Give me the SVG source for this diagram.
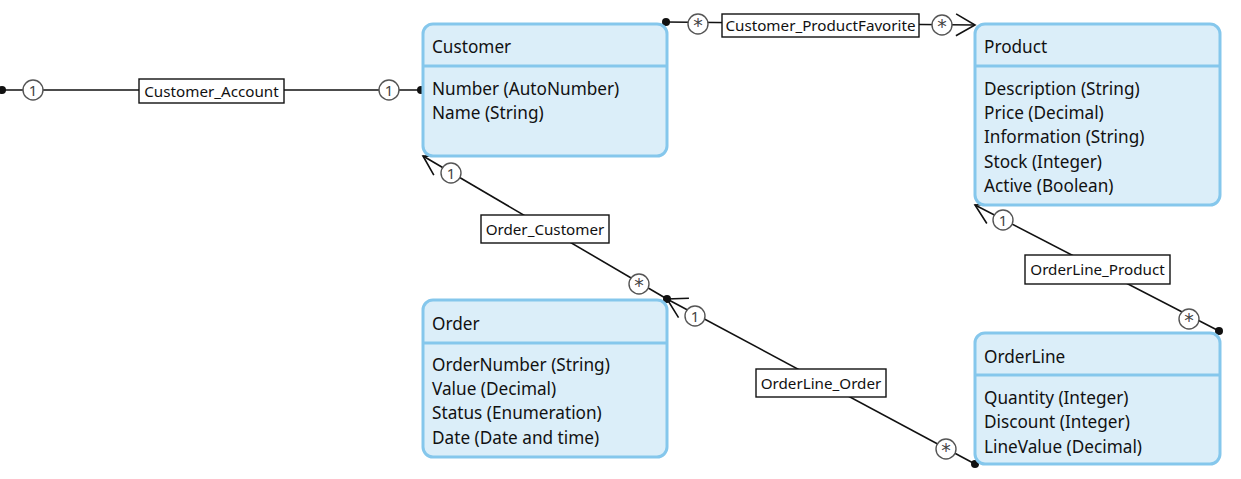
<svg xmlns="http://www.w3.org/2000/svg" width="1241" height="479" viewBox="0 0 1241 479">
<style>
.box{fill:#dbeef9;stroke:#85c7ec;stroke-width:3}
.div{stroke:#85c7ec;stroke-width:3}
.t{font-family:"Noto Sans","Open Sans",sans-serif;font-size:17.2px;fill:#111}
.ln{stroke:#111;stroke-width:1.6;fill:none}
.lbl{fill:#fff;stroke:#111;stroke-width:1.4}
.lt{font-family:"Noto Sans","Open Sans",sans-serif;font-size:15.2px;fill:#111;text-anchor:middle}
.mc{fill:#fff;stroke:#555;stroke-width:1.4}
.mt{font-family:"Noto Sans","Open Sans",sans-serif;font-size:15px;fill:#444;text-anchor:middle}
.ms{font-family:"DejaVu Sans",sans-serif;font-size:19px;fill:#444;text-anchor:middle}
</style>
<defs>
<marker id="dot" viewBox="-5 -5 10 10" markerWidth="10" markerHeight="10" markerUnits="userSpaceOnUse" refX="0" refY="0">
<circle r="4" fill="#111"/>
</marker>
<marker id="arr" viewBox="-25 -15 30 30" markerWidth="30" markerHeight="30" markerUnits="userSpaceOnUse" refX="0" refY="0" orient="auto-start-reverse">
<path d="M-19,-11 L0,0 L-19,11" fill="none" stroke="#111" stroke-width="1.6"/>
</marker>
</defs>
<g id="connectors">
<g id="c-customer-account">
<line class="ln" x1="2" y1="90" x2="421" y2="90" marker-start="url(#dot)" marker-end="url(#dot)"/>
<circle class="mc" cx="33" cy="90" r="10"/><text class="mt" x="33" y="95.5">1</text>
<circle class="mc" cx="389" cy="90" r="10"/><text class="mt" x="389" y="95.5">1</text>
<rect class="lbl" x="139" y="79" width="145" height="24"/><text class="lt" x="211.5" y="96.5">Customer_Account</text>
</g>
<g id="c-customer-productfavorite">
<line class="ln" x1="666" y1="22" x2="975" y2="25" marker-start="url(#dot)" marker-end="url(#arr)"/>
<circle class="mc" cx="698" cy="24" r="10"/><text class="ms" x="698" y="31.5">*</text>
<circle class="mc" cx="942" cy="25" r="10"/><text class="ms" x="942" y="32.5">*</text>
<rect class="lbl" x="722" y="14" width="197" height="23"/><text class="lt" x="820.5" y="31">Customer_ProductFavorite</text>
</g>
<g id="c-order-customer">
<line class="ln" x1="423" y1="156" x2="667" y2="299" marker-start="url(#arr)" marker-end="url(#dot)"/>
<circle class="mc" cx="451" cy="173" r="10"/><text class="mt" x="451" y="178.5">1</text>
<circle class="mc" cx="639" cy="284" r="10"/><text class="ms" x="639" y="291.5">*</text>
<rect class="lbl" x="481" y="215" width="128" height="28"/><text class="lt" x="545" y="234.5">Order_Customer</text>
</g>
<g id="c-orderline-order">
<line class="ln" x1="667" y1="299" x2="975" y2="464" marker-start="url(#arr)" marker-end="url(#dot)"/>
<circle class="mc" cx="695" cy="316" r="10"/><text class="mt" x="695" y="321.5">1</text>
<circle class="mc" cx="946" cy="449" r="10"/><text class="ms" x="946" y="456.5">*</text>
<rect class="lbl" x="756" y="369" width="130" height="28"/><text class="lt" x="821" y="388.5">OrderLine_Order</text>
</g>
<g id="c-orderline-product">
<line class="ln" x1="975" y1="205" x2="1219" y2="331" marker-start="url(#arr)" marker-end="url(#dot)"/>
<circle class="mc" cx="1003" cy="220" r="10"/><text class="mt" x="1003" y="225.5">1</text>
<circle class="mc" cx="1189" cy="319" r="10"/><text class="ms" x="1189" y="326.5">*</text>
<rect class="lbl" x="1025" y="255" width="145" height="29"/><text class="lt" x="1097.5" y="275">OrderLine_Product</text>
</g>
</g>
<g id="customer">
<rect class="box" x="423" y="24" width="244" height="132" rx="10"/>
<line class="div" x1="423" y1="66" x2="667" y2="66"/>
<text class="t" x="432" y="52.5">Customer</text>
<text class="t" x="432" y="94.5">Number (AutoNumber)</text>
<text class="t" x="432" y="119">Name (String)</text>
</g>
<g id="product">
<rect class="box" x="975" y="24" width="245" height="181" rx="10"/>
<line class="div" x1="975" y1="66" x2="1220" y2="66"/>
<text class="t" x="984" y="52.5">Product</text>
<text class="t" x="984" y="94.5">Description (String)</text>
<text class="t" x="984" y="118.5">Price (Decimal)</text>
<text class="t" x="984" y="142.5">Information (String)</text>
<text class="t" x="984" y="167.5">Stock (Integer)</text>
<text class="t" x="984" y="191.5">Active (Boolean)</text>
</g>
<g id="order">
<rect class="box" x="423" y="300" width="244" height="157" rx="10"/>
<line class="div" x1="423" y1="343" x2="667" y2="343"/>
<text class="t" x="432" y="329.5">Order</text>
<text class="t" x="432" y="370.5">OrderNumber (String)</text>
<text class="t" x="432" y="394.5">Value (Decimal)</text>
<text class="t" x="432" y="418.5">Status (Enumeration)</text>
<text class="t" x="432" y="443.5">Date (Date and time)</text>
</g>
<g id="orderline">
<rect class="box" x="975" y="333" width="245" height="131" rx="10"/>
<line class="div" x1="975" y1="375" x2="1220" y2="375"/>
<text class="t" x="984" y="362.5">OrderLine</text>
<text class="t" x="984" y="403.5">Quantity (Integer)</text>
<text class="t" x="984" y="427.5">Discount (Integer)</text>
<text class="t" x="984" y="452.5">LineValue (Decimal)</text>
</g>
</svg>
